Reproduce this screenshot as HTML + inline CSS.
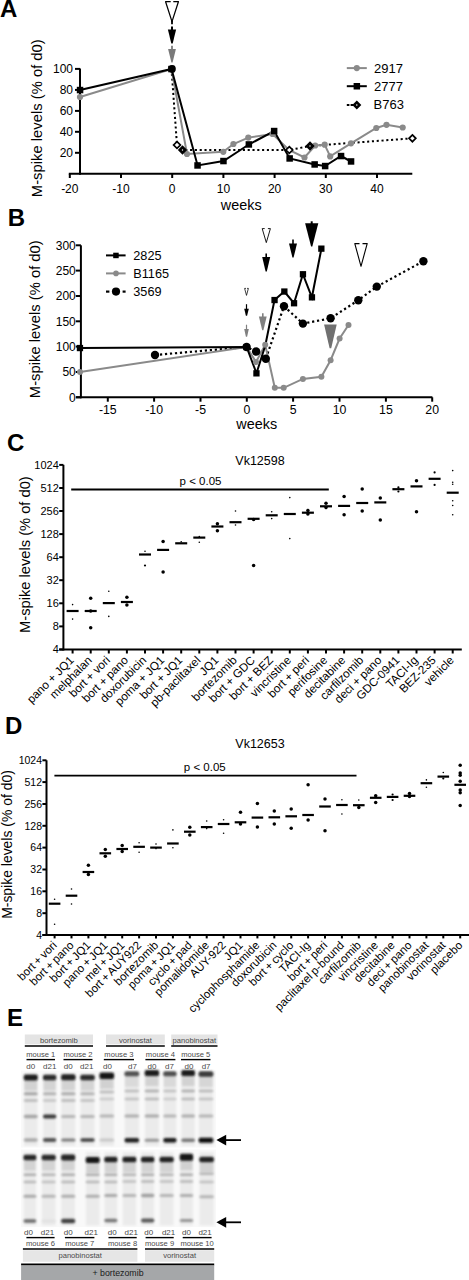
<!DOCTYPE html>
<html><head><meta charset="utf-8"><style>
html,body{margin:0;padding:0;background:#fff;width:469px;height:1280px;overflow:hidden}
svg{display:block}
text{font-family:"Liberation Sans", sans-serif}
</style></head><body>
<svg width="469" height="1280" viewBox="0 0 469 1280" font-family='"Liberation Sans", sans-serif'>
<rect width="469" height="1280" fill="#fff"/>
<text x="0.0" y="17.3" font-size="24" text-anchor="start" fill="#000" font-weight="bold" >A</text>
<line x1="68.8" y1="173.8" x2="412.3" y2="173.8" stroke="#000" stroke-width="2" />
<line x1="80.0" y1="68.5" x2="80.0" y2="174.8" stroke="#000" stroke-width="2" />
<line x1="69.8" y1="173.8" x2="69.8" y2="178.0" stroke="#000" stroke-width="2" />
<text x="69.8" y="192.5" font-size="12" text-anchor="middle" fill="#000" font-weight="normal" >-20</text>
<line x1="121.0" y1="173.8" x2="121.0" y2="178.0" stroke="#000" stroke-width="2" />
<text x="121.0" y="192.5" font-size="12" text-anchor="middle" fill="#000" font-weight="normal" >-10</text>
<line x1="172.2" y1="173.8" x2="172.2" y2="178.0" stroke="#000" stroke-width="2" />
<text x="172.2" y="192.5" font-size="12" text-anchor="middle" fill="#000" font-weight="normal" >0</text>
<line x1="223.4" y1="173.8" x2="223.4" y2="178.0" stroke="#000" stroke-width="2" />
<text x="223.4" y="192.5" font-size="12" text-anchor="middle" fill="#000" font-weight="normal" >10</text>
<line x1="274.6" y1="173.8" x2="274.6" y2="178.0" stroke="#000" stroke-width="2" />
<text x="274.6" y="192.5" font-size="12" text-anchor="middle" fill="#000" font-weight="normal" >20</text>
<line x1="325.8" y1="173.8" x2="325.8" y2="178.0" stroke="#000" stroke-width="2" />
<text x="325.8" y="192.5" font-size="12" text-anchor="middle" fill="#000" font-weight="normal" >30</text>
<line x1="377.0" y1="173.8" x2="377.0" y2="178.0" stroke="#000" stroke-width="2" />
<text x="377.0" y="192.5" font-size="12" text-anchor="middle" fill="#000" font-weight="normal" >40</text>
<line x1="75.0" y1="152.8" x2="80.0" y2="152.8" stroke="#000" stroke-width="2" />
<text x="73.0" y="157.0" font-size="12" text-anchor="end" fill="#000" font-weight="normal" >20</text>
<line x1="75.0" y1="131.8" x2="80.0" y2="131.8" stroke="#000" stroke-width="2" />
<text x="73.0" y="136.0" font-size="12" text-anchor="end" fill="#000" font-weight="normal" >40</text>
<line x1="75.0" y1="110.9" x2="80.0" y2="110.9" stroke="#000" stroke-width="2" />
<text x="73.0" y="115.1" font-size="12" text-anchor="end" fill="#000" font-weight="normal" >60</text>
<line x1="75.0" y1="89.9" x2="80.0" y2="89.9" stroke="#000" stroke-width="2" />
<text x="73.0" y="94.1" font-size="12" text-anchor="end" fill="#000" font-weight="normal" >80</text>
<line x1="75.0" y1="68.9" x2="80.0" y2="68.9" stroke="#000" stroke-width="2" />
<text x="73.0" y="73.1" font-size="12" text-anchor="end" fill="#000" font-weight="normal" >100</text>
<text x="241.2" y="210.2" font-size="14.4" text-anchor="middle" fill="#000" font-weight="normal" >weeks</text>
<text transform="translate(42.4,118.2) rotate(-90)" font-size="14.8" text-anchor="middle">M-spike levels (% of d0)</text>
<polyline points="171.5,69.0 177.0,145.0 182.5,150.0 289.3,150.0 310.0,146.0 412.4,138.3" fill="none" stroke="#000" stroke-width="2" stroke-dasharray="2.1 2.7" stroke-linejoin="miter" />
<polyline points="80.0,97.0 171.5,69.0 187.0,154.0 223.3,151.8 233.4,144.0 248.3,137.6 272.6,134.0 289.0,150.0 304.5,157.5 315.2,145.5 324.7,144.7 330.2,156.4 351.0,143.3 376.3,128.0 386.5,124.8 402.7,127.5" fill="none" stroke="#8a8a8a" stroke-width="2" stroke-linejoin="miter" />
<polyline points="80.0,90.0 171.5,69.0 197.6,165.4 223.5,161.0 248.8,144.5 274.1,131.1 289.7,158.5 314.6,164.5 325.1,166.0 341.0,156.0 351.0,161.5" fill="none" stroke="#000" stroke-width="2" stroke-linejoin="miter" />
<circle cx="80.0" cy="97.0" r="3.1" fill="#8a8a8a" stroke="none" stroke-width="0"/>
<circle cx="171.5" cy="69.0" r="3.1" fill="#8a8a8a" stroke="none" stroke-width="0"/>
<circle cx="187.0" cy="154.0" r="3.1" fill="#8a8a8a" stroke="none" stroke-width="0"/>
<circle cx="223.3" cy="151.8" r="3.1" fill="#8a8a8a" stroke="none" stroke-width="0"/>
<circle cx="233.4" cy="144.0" r="3.1" fill="#8a8a8a" stroke="none" stroke-width="0"/>
<circle cx="248.3" cy="137.6" r="3.1" fill="#8a8a8a" stroke="none" stroke-width="0"/>
<circle cx="272.6" cy="134.0" r="3.1" fill="#8a8a8a" stroke="none" stroke-width="0"/>
<circle cx="304.5" cy="157.5" r="3.1" fill="#8a8a8a" stroke="none" stroke-width="0"/>
<circle cx="315.2" cy="145.5" r="3.1" fill="#8a8a8a" stroke="none" stroke-width="0"/>
<circle cx="324.7" cy="144.7" r="3.1" fill="#8a8a8a" stroke="none" stroke-width="0"/>
<circle cx="330.2" cy="156.4" r="3.1" fill="#8a8a8a" stroke="none" stroke-width="0"/>
<circle cx="351.0" cy="143.3" r="3.1" fill="#8a8a8a" stroke="none" stroke-width="0"/>
<circle cx="376.3" cy="128.0" r="3.1" fill="#8a8a8a" stroke="none" stroke-width="0"/>
<circle cx="386.5" cy="124.8" r="3.1" fill="#8a8a8a" stroke="none" stroke-width="0"/>
<circle cx="402.7" cy="127.5" r="3.1" fill="#8a8a8a" stroke="none" stroke-width="0"/>
<rect x="76.8" y="86.8" width="6.5" height="6.5" fill="#000"/>
<rect x="168.2" y="65.8" width="6.5" height="6.5" fill="#000"/>
<rect x="194.3" y="162.2" width="6.5" height="6.5" fill="#000"/>
<rect x="220.2" y="157.8" width="6.5" height="6.5" fill="#000"/>
<rect x="245.6" y="141.2" width="6.5" height="6.5" fill="#000"/>
<rect x="270.9" y="127.8" width="6.5" height="6.5" fill="#000"/>
<rect x="286.4" y="155.2" width="6.5" height="6.5" fill="#000"/>
<rect x="311.4" y="161.2" width="6.5" height="6.5" fill="#000"/>
<rect x="321.9" y="162.8" width="6.5" height="6.5" fill="#000"/>
<rect x="337.8" y="152.8" width="6.5" height="6.5" fill="#000"/>
<rect x="347.8" y="158.2" width="6.5" height="6.5" fill="#000"/>
<circle cx="172.0" cy="68.9" r="3.8" fill="#000" stroke="none" stroke-width="0"/>
<polygon points="177,141.6 180.4,145 177,148.4 173.6,145" fill="#fff" stroke="#000" stroke-width="1.7"/>
<polygon points="289.3,146.6 292.7,150 289.3,153.4 285.90000000000003,150" fill="#fff" stroke="#000" stroke-width="1.7"/>
<polygon points="412.4,134.9 415.79999999999995,138.3 412.4,141.70000000000002 409.0,138.3" fill="#fff" stroke="#000" stroke-width="1.7"/>
<polygon points="182.5,146.4 186.1,150 182.5,153.6 178.9,150" fill="#000" stroke="#000" stroke-width="1.5"/>
<circle cx="182.5" cy="150.0" r="0.7" fill="#fff" stroke="none" stroke-width="0"/>
<polygon points="310,142.4 313.6,146 310,149.6 306.4,146" fill="#000" stroke="#000" stroke-width="1.5"/>
<circle cx="310.0" cy="146.0" r="0.7" fill="#fff" stroke="none" stroke-width="0"/>
<path d="M170.7,1.7 L165.6,1.7 L172.0,21.6 L178.4,1.7 L173.3,1.7" fill="none" stroke="#000" stroke-width="1.25" stroke-linejoin="round"/>
<line x1="172.0" y1="21.0" x2="172.0" y2="24.2" stroke="#000" stroke-width="1.8" />
<line x1="172.0" y1="26.4" x2="172.0" y2="30.0" stroke="#000" stroke-width="2" />
<polygon points="167.9,29.5 176.1,29.5 172.7,43.6 171.3,43.6" fill="#000"/>
<line x1="172.0" y1="45.8" x2="172.0" y2="49.5" stroke="#7a7a7a" stroke-width="1.8" />
<polygon points="168.1,49 175.9,49 172.6,62.6 171.4,62.6" fill="#7a7a7a"/>
<line x1="346.8" y1="68.1" x2="366.8" y2="68.1" stroke="#8a8a8a" stroke-width="2" />
<circle cx="356.8" cy="68.1" r="3.1" fill="#8a8a8a" stroke="none" stroke-width="0"/>
<line x1="346.8" y1="86.2" x2="366.8" y2="86.2" stroke="#000" stroke-width="2" />
<rect x="353.6" y="83.0" width="6.5" height="6.5" fill="#000"/>
<line x1="346.8" y1="105.0" x2="349.4" y2="105.0" stroke="#000" stroke-width="2" />
<line x1="350.6" y1="105.0" x2="353.4" y2="105.0" stroke="#000" stroke-width="2" />
<polygon points="356.8,101.6 360.2,105 356.8,108.4 353.40000000000003,105" fill="#000" stroke="#000" stroke-width="1.6"/>
<circle cx="356.8" cy="105.0" r="0.8" fill="#fff" stroke="none" stroke-width="0"/>
<text x="374.0" y="72.6" font-size="13" text-anchor="start" fill="#000" font-weight="normal" >2917</text>
<text x="374.0" y="90.8" font-size="13" text-anchor="start" fill="#000" font-weight="normal" >2777</text>
<text x="373.5" y="109.3" font-size="13" text-anchor="start" fill="#000" font-weight="normal" >B763</text>
<text x="7.8" y="226.0" font-size="24" text-anchor="start" fill="#000" font-weight="bold" >B</text>
<line x1="76.0" y1="397.3" x2="432.4" y2="397.3" stroke="#000" stroke-width="2" />
<line x1="80.9" y1="245.3" x2="80.9" y2="398.3" stroke="#000" stroke-width="2" />
<line x1="107.8" y1="397.3" x2="107.8" y2="401.7" stroke="#000" stroke-width="2" />
<text x="107.8" y="414.1" font-size="12.3" text-anchor="middle" fill="#000" font-weight="normal" >-15</text>
<line x1="154.1" y1="397.3" x2="154.1" y2="401.7" stroke="#000" stroke-width="2" />
<text x="154.1" y="414.1" font-size="12.3" text-anchor="middle" fill="#000" font-weight="normal" >-10</text>
<line x1="200.5" y1="397.3" x2="200.5" y2="401.7" stroke="#000" stroke-width="2" />
<text x="200.5" y="414.1" font-size="12.3" text-anchor="middle" fill="#000" font-weight="normal" >-5</text>
<line x1="246.8" y1="397.3" x2="246.8" y2="401.7" stroke="#000" stroke-width="2" />
<text x="246.8" y="414.1" font-size="12.3" text-anchor="middle" fill="#000" font-weight="normal" >0</text>
<line x1="293.1" y1="397.3" x2="293.1" y2="401.7" stroke="#000" stroke-width="2" />
<text x="293.1" y="414.1" font-size="12.3" text-anchor="middle" fill="#000" font-weight="normal" >5</text>
<line x1="339.5" y1="397.3" x2="339.5" y2="401.7" stroke="#000" stroke-width="2" />
<text x="339.5" y="414.1" font-size="12.3" text-anchor="middle" fill="#000" font-weight="normal" >10</text>
<line x1="385.9" y1="397.3" x2="385.9" y2="401.7" stroke="#000" stroke-width="2" />
<text x="385.9" y="414.1" font-size="12.3" text-anchor="middle" fill="#000" font-weight="normal" >15</text>
<line x1="432.2" y1="397.3" x2="432.2" y2="401.7" stroke="#000" stroke-width="2" />
<text x="432.2" y="414.1" font-size="12.3" text-anchor="middle" fill="#000" font-weight="normal" >20</text>
<line x1="75.8" y1="397.3" x2="80.9" y2="397.3" stroke="#000" stroke-width="2" />
<text x="75.8" y="401.6" font-size="12" text-anchor="end" fill="#000" font-weight="normal" >0</text>
<line x1="75.8" y1="372.0" x2="80.9" y2="372.0" stroke="#000" stroke-width="2" />
<text x="75.8" y="376.3" font-size="12" text-anchor="end" fill="#000" font-weight="normal" >50</text>
<line x1="75.8" y1="346.6" x2="80.9" y2="346.6" stroke="#000" stroke-width="2" />
<text x="75.8" y="350.9" font-size="12" text-anchor="end" fill="#000" font-weight="normal" >100</text>
<line x1="75.8" y1="321.3" x2="80.9" y2="321.3" stroke="#000" stroke-width="2" />
<text x="75.8" y="325.6" font-size="12" text-anchor="end" fill="#000" font-weight="normal" >150</text>
<line x1="75.8" y1="296.0" x2="80.9" y2="296.0" stroke="#000" stroke-width="2" />
<text x="75.8" y="300.3" font-size="12" text-anchor="end" fill="#000" font-weight="normal" >200</text>
<line x1="75.8" y1="270.6" x2="80.9" y2="270.6" stroke="#000" stroke-width="2" />
<text x="75.8" y="274.9" font-size="12" text-anchor="end" fill="#000" font-weight="normal" >250</text>
<line x1="75.8" y1="245.3" x2="80.9" y2="245.3" stroke="#000" stroke-width="2" />
<text x="75.8" y="249.6" font-size="12" text-anchor="end" fill="#000" font-weight="normal" >300</text>
<text x="256.7" y="428.5" font-size="14.4" text-anchor="middle" fill="#000" font-weight="normal" >weeks</text>
<text transform="translate(40.2,319.2) rotate(-90)" font-size="14.8" text-anchor="middle">M-spike levels (% of d0)</text>
<polyline points="155.0,355.0 246.6,347.0 256.1,351.5 265.8,358.7 284.0,306.3 302.9,323.6 330.6,318.3 358.3,300.2 376.8,286.6 423.4,261.2" fill="none" stroke="#000" stroke-width="2.2" stroke-dasharray="2.2 2.8" stroke-linejoin="miter" />
<polyline points="80.0,372.0 246.6,347.0 256.0,362.0 265.2,344.8 274.8,387.8 283.7,387.8 302.9,378.9 321.4,376.8 330.6,360.2 339.6,338.5 348.5,325.0" fill="none" stroke="#8a8a8a" stroke-width="2" stroke-linejoin="miter" />
<polyline points="80.0,348.0 246.6,347.0 256.5,373.3 265.3,345.5 274.5,300.0 284.3,291.5 294.0,303.2 302.9,274.2 311.9,297.3 321.4,248.7" fill="none" stroke="#000" stroke-width="2" stroke-linejoin="miter" />
<circle cx="80.0" cy="372.0" r="3.0" fill="#8a8a8a" stroke="none" stroke-width="0"/>
<circle cx="246.6" cy="347.0" r="3.0" fill="#8a8a8a" stroke="none" stroke-width="0"/>
<circle cx="256.0" cy="362.0" r="3.0" fill="#8a8a8a" stroke="none" stroke-width="0"/>
<circle cx="265.2" cy="344.8" r="3.0" fill="#8a8a8a" stroke="none" stroke-width="0"/>
<circle cx="274.8" cy="387.8" r="3.0" fill="#8a8a8a" stroke="none" stroke-width="0"/>
<circle cx="283.7" cy="387.8" r="3.0" fill="#8a8a8a" stroke="none" stroke-width="0"/>
<circle cx="302.9" cy="378.9" r="3.0" fill="#8a8a8a" stroke="none" stroke-width="0"/>
<circle cx="321.4" cy="376.8" r="3.0" fill="#8a8a8a" stroke="none" stroke-width="0"/>
<circle cx="330.6" cy="360.2" r="3.0" fill="#8a8a8a" stroke="none" stroke-width="0"/>
<circle cx="339.6" cy="338.5" r="3.0" fill="#8a8a8a" stroke="none" stroke-width="0"/>
<circle cx="348.5" cy="325.0" r="3.0" fill="#8a8a8a" stroke="none" stroke-width="0"/>
<rect x="76.8" y="344.9" width="6.3" height="6.3" fill="#000"/>
<rect x="243.4" y="343.9" width="6.3" height="6.3" fill="#000"/>
<rect x="253.3" y="370.2" width="6.3" height="6.3" fill="#000"/>
<rect x="271.4" y="296.9" width="6.3" height="6.3" fill="#000"/>
<rect x="281.2" y="288.4" width="6.3" height="6.3" fill="#000"/>
<rect x="290.9" y="300.1" width="6.3" height="6.3" fill="#000"/>
<rect x="299.8" y="271.1" width="6.3" height="6.3" fill="#000"/>
<rect x="308.8" y="294.2" width="6.3" height="6.3" fill="#000"/>
<rect x="318.2" y="245.5" width="6.3" height="6.3" fill="#000"/>
<circle cx="155.0" cy="355.0" r="4.2" fill="#000" stroke="none" stroke-width="0"/>
<circle cx="246.6" cy="347.0" r="4.2" fill="#000" stroke="none" stroke-width="0"/>
<circle cx="256.1" cy="351.5" r="4.2" fill="#000" stroke="none" stroke-width="0"/>
<circle cx="265.8" cy="358.7" r="4.2" fill="#000" stroke="none" stroke-width="0"/>
<circle cx="284.0" cy="306.3" r="4.2" fill="#000" stroke="none" stroke-width="0"/>
<circle cx="302.9" cy="323.6" r="4.2" fill="#000" stroke="none" stroke-width="0"/>
<circle cx="330.6" cy="318.3" r="4.2" fill="#000" stroke="none" stroke-width="0"/>
<circle cx="358.3" cy="300.2" r="4.2" fill="#000" stroke="none" stroke-width="0"/>
<circle cx="376.8" cy="286.6" r="4.2" fill="#000" stroke="none" stroke-width="0"/>
<circle cx="423.4" cy="261.2" r="4.2" fill="#000" stroke="none" stroke-width="0"/>
<path d="M246.0,288.4 L244.6,288.4 L246.5,295.4 L248.4,288.4 L247.0,288.4" fill="none" stroke="#000" stroke-width="0.75" stroke-linejoin="round"/>
<line x1="246.5" y1="304.2" x2="246.5" y2="309.7" stroke="#000" stroke-width="1.2" />
<polygon points="244.2,308.7 248.8,308.7 247.1,315.7 245.9,315.7" fill="#000"/>
<line x1="246.5" y1="324.7" x2="246.5" y2="330.0" stroke="#808080" stroke-width="1.2" />
<polygon points="244.2,329.0 248.8,329.0 247.1,336.8 245.9,336.8" fill="#808080"/>
<path d="M264.7,228.6 L262.2,228.6 L266.3,242.6 L270.4,228.6 L267.9,228.6" fill="none" stroke="#000" stroke-width="0.9" stroke-linejoin="round"/>
<line x1="266.2" y1="253.5" x2="266.2" y2="258.1" stroke="#000" stroke-width="1.6" />
<polygon points="262.2,257.1 270.2,257.1 266.8,271.4 265.6,271.4" fill="#000"/>
<line x1="262.8" y1="313.2" x2="262.8" y2="317.5" stroke="#808080" stroke-width="1.6" />
<polygon points="258.9,316.5 266.7,316.5 263.4,330.2 262.2,330.2" fill="#808080"/>
<line x1="293.0" y1="239.6" x2="293.0" y2="244.4" stroke="#000" stroke-width="1.6" />
<polygon points="289.0,243.4 297.0,243.4 293.6,257.5 292.4,257.5" fill="#000"/>
<line x1="311.7" y1="221.3" x2="311.7" y2="224.2" stroke="#000" stroke-width="2" />
<polygon points="305.1,223.2 318.3,223.2 312.3,246.6 311.1,246.6" fill="#000"/>
<polygon points="324.1,324.6 336.7,324.6 331.2,348.2 329.6,348.2" fill="#707070"/>
<path d="M359.5,243.6 L354.8,243.6 L361.0,266.3 L367.2,243.6 L362.5,243.6" fill="none" stroke="#000" stroke-width="1.1" stroke-linejoin="round"/>
<line x1="106.0" y1="255.4" x2="125.6" y2="255.4" stroke="#000" stroke-width="2" />
<rect x="113.2" y="252.7" width="5.5" height="5.5" fill="#000"/>
<line x1="106.0" y1="273.4" x2="125.6" y2="273.4" stroke="#8a8a8a" stroke-width="2" />
<circle cx="116.0" cy="273.4" r="2.8" fill="#8a8a8a" stroke="none" stroke-width="0"/>
<line x1="106.0" y1="291.6" x2="109.4" y2="291.6" stroke="#000" stroke-width="2.2" />
<line x1="122.6" y1="291.6" x2="125.6" y2="291.6" stroke="#000" stroke-width="2.2" />
<circle cx="116.0" cy="291.6" r="4.1" fill="#000" stroke="none" stroke-width="0"/>
<text x="133.3" y="259.8" font-size="12.7" text-anchor="start" fill="#000" font-weight="normal" >2825</text>
<text x="133.3" y="278.0" font-size="12.7" text-anchor="start" fill="#000" font-weight="normal" >B1165</text>
<text x="133.3" y="296.0" font-size="12.7" text-anchor="start" fill="#000" font-weight="normal" >3569</text>
<text x="7.1" y="450.8" font-size="24" text-anchor="start" fill="#000" font-weight="bold" >C</text>
<line x1="63.4" y1="464.8" x2="63.4" y2="650.5" stroke="#000" stroke-width="2" />
<line x1="59.2" y1="649.5" x2="461.8" y2="649.5" stroke="#000" stroke-width="2" />
<line x1="59.2" y1="649.5" x2="63.4" y2="649.5" stroke="#000" stroke-width="2" />
<text x="58.8" y="653.4" font-size="11" text-anchor="end" fill="#000" font-weight="normal" >4</text>
<line x1="59.2" y1="626.4" x2="63.4" y2="626.4" stroke="#000" stroke-width="2" />
<text x="58.8" y="630.3" font-size="11" text-anchor="end" fill="#000" font-weight="normal" >8</text>
<line x1="59.2" y1="603.3" x2="63.4" y2="603.3" stroke="#000" stroke-width="2" />
<text x="58.8" y="607.2" font-size="11" text-anchor="end" fill="#000" font-weight="normal" >16</text>
<line x1="59.2" y1="580.2" x2="63.4" y2="580.2" stroke="#000" stroke-width="2" />
<text x="58.8" y="584.1" font-size="11" text-anchor="end" fill="#000" font-weight="normal" >32</text>
<line x1="59.2" y1="557.2" x2="63.4" y2="557.2" stroke="#000" stroke-width="2" />
<text x="58.8" y="561.1" font-size="11" text-anchor="end" fill="#000" font-weight="normal" >64</text>
<line x1="59.2" y1="534.1" x2="63.4" y2="534.1" stroke="#000" stroke-width="2" />
<text x="58.8" y="538.0" font-size="11" text-anchor="end" fill="#000" font-weight="normal" >128</text>
<line x1="59.2" y1="511.0" x2="63.4" y2="511.0" stroke="#000" stroke-width="2" />
<text x="58.8" y="514.9" font-size="11" text-anchor="end" fill="#000" font-weight="normal" >256</text>
<line x1="59.2" y1="488.0" x2="63.4" y2="488.0" stroke="#000" stroke-width="2" />
<text x="58.8" y="491.9" font-size="11" text-anchor="end" fill="#000" font-weight="normal" >512</text>
<line x1="59.2" y1="464.9" x2="63.4" y2="464.9" stroke="#000" stroke-width="2" />
<text x="58.8" y="468.8" font-size="11" text-anchor="end" fill="#000" font-weight="normal" >1024</text>
<line x1="72.6" y1="649.5" x2="72.6" y2="653.5" stroke="#000" stroke-width="2" />
<line x1="90.7" y1="649.5" x2="90.7" y2="653.5" stroke="#000" stroke-width="2" />
<line x1="108.8" y1="649.5" x2="108.8" y2="653.5" stroke="#000" stroke-width="2" />
<line x1="126.9" y1="649.5" x2="126.9" y2="653.5" stroke="#000" stroke-width="2" />
<line x1="145.0" y1="649.5" x2="145.0" y2="653.5" stroke="#000" stroke-width="2" />
<line x1="163.1" y1="649.5" x2="163.1" y2="653.5" stroke="#000" stroke-width="2" />
<line x1="181.2" y1="649.5" x2="181.2" y2="653.5" stroke="#000" stroke-width="2" />
<line x1="199.3" y1="649.5" x2="199.3" y2="653.5" stroke="#000" stroke-width="2" />
<line x1="217.4" y1="649.5" x2="217.4" y2="653.5" stroke="#000" stroke-width="2" />
<line x1="235.5" y1="649.5" x2="235.5" y2="653.5" stroke="#000" stroke-width="2" />
<line x1="253.6" y1="649.5" x2="253.6" y2="653.5" stroke="#000" stroke-width="2" />
<line x1="271.7" y1="649.5" x2="271.7" y2="653.5" stroke="#000" stroke-width="2" />
<line x1="289.8" y1="649.5" x2="289.8" y2="653.5" stroke="#000" stroke-width="2" />
<line x1="307.9" y1="649.5" x2="307.9" y2="653.5" stroke="#000" stroke-width="2" />
<line x1="326.0" y1="649.5" x2="326.0" y2="653.5" stroke="#000" stroke-width="2" />
<line x1="344.1" y1="649.5" x2="344.1" y2="653.5" stroke="#000" stroke-width="2" />
<line x1="362.2" y1="649.5" x2="362.2" y2="653.5" stroke="#000" stroke-width="2" />
<line x1="380.3" y1="649.5" x2="380.3" y2="653.5" stroke="#000" stroke-width="2" />
<line x1="398.4" y1="649.5" x2="398.4" y2="653.5" stroke="#000" stroke-width="2" />
<line x1="416.5" y1="649.5" x2="416.5" y2="653.5" stroke="#000" stroke-width="2" />
<line x1="434.6" y1="649.5" x2="434.6" y2="653.5" stroke="#000" stroke-width="2" />
<line x1="452.7" y1="649.5" x2="452.7" y2="653.5" stroke="#000" stroke-width="2" />
<text x="260.0" y="464.5" font-size="12.5" text-anchor="middle" fill="#000" font-weight="normal" >Vk12598</text>
<text x="200.5" y="485.0" font-size="11.5" text-anchor="middle" fill="#000" font-weight="normal" >p &lt; 0.05</text>
<line x1="71.2" y1="489.5" x2="328.8" y2="489.5" stroke="#000" stroke-width="1.8" />
<text transform="translate(29.6,554.6) rotate(-90)" font-size="14.7" text-anchor="middle">M-spike levels (% of d0)</text>
<text transform="translate(74.6,661) rotate(-45)" font-size="11.7" text-anchor="end">pano + JQ1</text>
<text transform="translate(92.7,661) rotate(-45)" font-size="11.7" text-anchor="end">melphalan</text>
<text transform="translate(110.8,661) rotate(-45)" font-size="11.7" text-anchor="end">bort + vori</text>
<text transform="translate(128.9,661) rotate(-45)" font-size="11.7" text-anchor="end">bort + pano</text>
<text transform="translate(147.0,661) rotate(-45)" font-size="11.7" text-anchor="end">doxorubicin</text>
<text transform="translate(165.1,661) rotate(-45)" font-size="11.7" text-anchor="end">poma + JQ1</text>
<text transform="translate(183.2,661) rotate(-45)" font-size="11.7" text-anchor="end">bort + JQ1</text>
<text transform="translate(201.3,661) rotate(-45)" font-size="11.7" text-anchor="end">pb-paclitaxel</text>
<text transform="translate(219.4,661) rotate(-45)" font-size="11.7" text-anchor="end">JQ1</text>
<text transform="translate(237.5,661) rotate(-45)" font-size="11.7" text-anchor="end">bortezomib</text>
<text transform="translate(255.6,661) rotate(-45)" font-size="11.7" text-anchor="end">bort + GDC</text>
<text transform="translate(273.7,661) rotate(-45)" font-size="11.7" text-anchor="end">bort + BEZ</text>
<text transform="translate(291.8,661) rotate(-45)" font-size="11.7" text-anchor="end">vincristine</text>
<text transform="translate(309.9,661) rotate(-45)" font-size="11.7" text-anchor="end">bort + peri</text>
<text transform="translate(328.0,661) rotate(-45)" font-size="11.7" text-anchor="end">perifosine</text>
<text transform="translate(346.1,661) rotate(-45)" font-size="11.7" text-anchor="end">decitabine</text>
<text transform="translate(364.2,661) rotate(-45)" font-size="11.7" text-anchor="end">carfilzomib</text>
<text transform="translate(382.3,661) rotate(-45)" font-size="11.7" text-anchor="end">deci + pano</text>
<text transform="translate(400.4,661) rotate(-45)" font-size="11.7" text-anchor="end">GDC-0941</text>
<text transform="translate(418.5,661) rotate(-45)" font-size="11.7" text-anchor="end">TACI-Ig</text>
<text transform="translate(436.6,661) rotate(-45)" font-size="11.7" text-anchor="end">BEZ-235</text>
<text transform="translate(454.7,661) rotate(-45)" font-size="11.7" text-anchor="end">vehicle</text>
<line x1="66.6" y1="611.0" x2="78.6" y2="611.0" stroke="#000" stroke-width="2.2" />
<circle cx="72.6" cy="604.6" r="0.8" fill="#000" stroke="none" stroke-width="0"/>
<circle cx="72.6" cy="619.1" r="0.8" fill="#000" stroke="none" stroke-width="0"/>
<line x1="84.7" y1="611.0" x2="96.7" y2="611.0" stroke="#000" stroke-width="2.2" />
<circle cx="90.7" cy="598.2" r="1.75" fill="#000" stroke="none" stroke-width="0"/>
<circle cx="90.7" cy="627.7" r="1.75" fill="#000" stroke="none" stroke-width="0"/>
<circle cx="90.7" cy="611.0" r="1.75" fill="#000" stroke="none" stroke-width="0"/>
<line x1="102.8" y1="603.1" x2="114.8" y2="603.1" stroke="#000" stroke-width="2.2" />
<circle cx="108.8" cy="591.2" r="0.8" fill="#000" stroke="none" stroke-width="0"/>
<circle cx="108.8" cy="616.4" r="0.8" fill="#000" stroke="none" stroke-width="0"/>
<line x1="120.9" y1="602.0" x2="132.9" y2="602.0" stroke="#000" stroke-width="2.2" />
<circle cx="126.9" cy="597.2" r="1.75" fill="#000" stroke="none" stroke-width="0"/>
<circle cx="126.9" cy="605.0" r="1.75" fill="#000" stroke="none" stroke-width="0"/>
<line x1="139.0" y1="554.5" x2="151.0" y2="554.5" stroke="#000" stroke-width="2.2" />
<circle cx="145.0" cy="551.3" r="0.8" fill="#000" stroke="none" stroke-width="0"/>
<circle cx="145.0" cy="565.5" r="1.1" fill="#000" stroke="none" stroke-width="0"/>
<line x1="157.1" y1="549.9" x2="169.1" y2="549.9" stroke="#000" stroke-width="2.2" />
<circle cx="163.1" cy="541.4" r="1.75" fill="#000" stroke="none" stroke-width="0"/>
<circle cx="163.1" cy="572.1" r="1.75" fill="#000" stroke="none" stroke-width="0"/>
<line x1="175.2" y1="543.3" x2="187.2" y2="543.3" stroke="#000" stroke-width="2.2" />
<circle cx="181.2" cy="541.8" r="0.8" fill="#000" stroke="none" stroke-width="0"/>
<line x1="193.3" y1="537.6" x2="205.3" y2="537.6" stroke="#000" stroke-width="2.2" />
<circle cx="199.3" cy="536.5" r="0.8" fill="#000" stroke="none" stroke-width="0"/>
<circle cx="199.3" cy="542.3" r="0.8" fill="#000" stroke="none" stroke-width="0"/>
<line x1="211.4" y1="526.5" x2="223.4" y2="526.5" stroke="#000" stroke-width="2.2" />
<circle cx="217.4" cy="523.7" r="1.75" fill="#000" stroke="none" stroke-width="0"/>
<circle cx="217.4" cy="530.7" r="1.75" fill="#000" stroke="none" stroke-width="0"/>
<line x1="229.5" y1="522.2" x2="241.5" y2="522.2" stroke="#000" stroke-width="2.2" />
<circle cx="235.5" cy="511.0" r="0.8" fill="#000" stroke="none" stroke-width="0"/>
<circle cx="235.5" cy="525.0" r="0.8" fill="#000" stroke="none" stroke-width="0"/>
<line x1="247.6" y1="518.8" x2="259.6" y2="518.8" stroke="#000" stroke-width="2.2" />
<circle cx="253.6" cy="565.4" r="1.75" fill="#000" stroke="none" stroke-width="0"/>
<circle cx="253.6" cy="519.4" r="1.75" fill="#000" stroke="none" stroke-width="0"/>
<line x1="265.7" y1="515.3" x2="277.7" y2="515.3" stroke="#000" stroke-width="2.2" />
<circle cx="271.7" cy="511.7" r="0.8" fill="#000" stroke="none" stroke-width="0"/>
<circle cx="271.7" cy="518.6" r="0.8" fill="#000" stroke="none" stroke-width="0"/>
<line x1="283.8" y1="514.0" x2="295.8" y2="514.0" stroke="#000" stroke-width="2.2" />
<circle cx="289.8" cy="497.6" r="0.8" fill="#000" stroke="none" stroke-width="0"/>
<circle cx="289.8" cy="538.6" r="0.8" fill="#000" stroke="none" stroke-width="0"/>
<line x1="301.9" y1="512.7" x2="313.9" y2="512.7" stroke="#000" stroke-width="2.2" />
<circle cx="307.9" cy="510.4" r="1.75" fill="#000" stroke="none" stroke-width="0"/>
<circle cx="307.9" cy="514.0" r="1.75" fill="#000" stroke="none" stroke-width="0"/>
<line x1="320.0" y1="506.3" x2="332.0" y2="506.3" stroke="#000" stroke-width="2.2" />
<circle cx="326.0" cy="503.3" r="1.75" fill="#000" stroke="none" stroke-width="0"/>
<circle cx="326.0" cy="507.6" r="1.75" fill="#000" stroke="none" stroke-width="0"/>
<line x1="338.1" y1="505.9" x2="350.1" y2="505.9" stroke="#000" stroke-width="2.2" />
<circle cx="344.1" cy="496.5" r="1.75" fill="#000" stroke="none" stroke-width="0"/>
<circle cx="344.1" cy="514.8" r="1.75" fill="#000" stroke="none" stroke-width="0"/>
<line x1="356.2" y1="503.0" x2="368.2" y2="503.0" stroke="#000" stroke-width="2.2" />
<circle cx="362.2" cy="489.0" r="1.75" fill="#000" stroke="none" stroke-width="0"/>
<circle cx="362.2" cy="511.0" r="1.75" fill="#000" stroke="none" stroke-width="0"/>
<line x1="374.3" y1="502.4" x2="386.3" y2="502.4" stroke="#000" stroke-width="2.2" />
<circle cx="380.3" cy="498.0" r="1.75" fill="#000" stroke="none" stroke-width="0"/>
<circle cx="380.3" cy="519.9" r="1.75" fill="#000" stroke="none" stroke-width="0"/>
<line x1="392.4" y1="489.2" x2="404.4" y2="489.2" stroke="#000" stroke-width="2.2" />
<circle cx="398.4" cy="487.4" r="1.1" fill="#000" stroke="none" stroke-width="0"/>
<circle cx="398.4" cy="491.5" r="1.1" fill="#000" stroke="none" stroke-width="0"/>
<line x1="410.5" y1="486.4" x2="422.5" y2="486.4" stroke="#000" stroke-width="2.2" />
<circle cx="416.5" cy="480.8" r="1.75" fill="#000" stroke="none" stroke-width="0"/>
<circle cx="416.5" cy="511.7" r="1.75" fill="#000" stroke="none" stroke-width="0"/>
<line x1="428.6" y1="478.8" x2="440.6" y2="478.8" stroke="#000" stroke-width="2.2" />
<circle cx="434.6" cy="472.4" r="1.1" fill="#000" stroke="none" stroke-width="0"/>
<circle cx="434.6" cy="484.9" r="1.1" fill="#000" stroke="none" stroke-width="0"/>
<line x1="446.7" y1="492.7" x2="458.7" y2="492.7" stroke="#000" stroke-width="2.2" />
<circle cx="452.7" cy="470.6" r="0.8" fill="#000" stroke="none" stroke-width="0"/>
<circle cx="452.7" cy="482.3" r="0.8" fill="#000" stroke="none" stroke-width="0"/>
<circle cx="452.7" cy="484.3" r="0.8" fill="#000" stroke="none" stroke-width="0"/>
<circle cx="452.7" cy="500.8" r="0.8" fill="#000" stroke="none" stroke-width="0"/>
<circle cx="452.7" cy="505.5" r="0.8" fill="#000" stroke="none" stroke-width="0"/>
<circle cx="452.7" cy="514.7" r="0.8" fill="#000" stroke="none" stroke-width="0"/>
<text x="4.9" y="733.7" font-size="24" text-anchor="start" fill="#000" font-weight="bold" >D</text>
<line x1="46.5" y1="760.3" x2="46.5" y2="936.0" stroke="#000" stroke-width="2" />
<line x1="42.4" y1="935.0" x2="469.0" y2="935.0" stroke="#000" stroke-width="2" />
<line x1="42.4" y1="935.0" x2="46.5" y2="935.0" stroke="#000" stroke-width="2" />
<text x="42.0" y="938.7" font-size="10.5" text-anchor="end" fill="#000" font-weight="normal" >4</text>
<line x1="42.4" y1="913.2" x2="46.5" y2="913.2" stroke="#000" stroke-width="2" />
<text x="42.0" y="916.9" font-size="10.5" text-anchor="end" fill="#000" font-weight="normal" >8</text>
<line x1="42.4" y1="891.3" x2="46.5" y2="891.3" stroke="#000" stroke-width="2" />
<text x="42.0" y="895.0" font-size="10.5" text-anchor="end" fill="#000" font-weight="normal" >16</text>
<line x1="42.4" y1="869.5" x2="46.5" y2="869.5" stroke="#000" stroke-width="2" />
<text x="42.0" y="873.2" font-size="10.5" text-anchor="end" fill="#000" font-weight="normal" >32</text>
<line x1="42.4" y1="847.6" x2="46.5" y2="847.6" stroke="#000" stroke-width="2" />
<text x="42.0" y="851.3" font-size="10.5" text-anchor="end" fill="#000" font-weight="normal" >64</text>
<line x1="42.4" y1="825.8" x2="46.5" y2="825.8" stroke="#000" stroke-width="2" />
<text x="42.0" y="829.5" font-size="10.5" text-anchor="end" fill="#000" font-weight="normal" >128</text>
<line x1="42.4" y1="804.0" x2="46.5" y2="804.0" stroke="#000" stroke-width="2" />
<text x="42.0" y="807.7" font-size="10.5" text-anchor="end" fill="#000" font-weight="normal" >256</text>
<line x1="42.4" y1="782.1" x2="46.5" y2="782.1" stroke="#000" stroke-width="2" />
<text x="42.0" y="785.8" font-size="10.5" text-anchor="end" fill="#000" font-weight="normal" >512</text>
<line x1="42.4" y1="760.3" x2="46.5" y2="760.3" stroke="#000" stroke-width="2" />
<text x="42.0" y="764.0" font-size="10.5" text-anchor="end" fill="#000" font-weight="normal" >1024</text>
<line x1="54.6" y1="935.0" x2="54.6" y2="938.4" stroke="#000" stroke-width="2" />
<line x1="71.5" y1="935.0" x2="71.5" y2="938.4" stroke="#000" stroke-width="2" />
<line x1="88.4" y1="935.0" x2="88.4" y2="938.4" stroke="#000" stroke-width="2" />
<line x1="105.3" y1="935.0" x2="105.3" y2="938.4" stroke="#000" stroke-width="2" />
<line x1="122.2" y1="935.0" x2="122.2" y2="938.4" stroke="#000" stroke-width="2" />
<line x1="139.1" y1="935.0" x2="139.1" y2="938.4" stroke="#000" stroke-width="2" />
<line x1="156.0" y1="935.0" x2="156.0" y2="938.4" stroke="#000" stroke-width="2" />
<line x1="172.9" y1="935.0" x2="172.9" y2="938.4" stroke="#000" stroke-width="2" />
<line x1="189.8" y1="935.0" x2="189.8" y2="938.4" stroke="#000" stroke-width="2" />
<line x1="206.7" y1="935.0" x2="206.7" y2="938.4" stroke="#000" stroke-width="2" />
<line x1="223.6" y1="935.0" x2="223.6" y2="938.4" stroke="#000" stroke-width="2" />
<line x1="240.5" y1="935.0" x2="240.5" y2="938.4" stroke="#000" stroke-width="2" />
<line x1="257.4" y1="935.0" x2="257.4" y2="938.4" stroke="#000" stroke-width="2" />
<line x1="274.3" y1="935.0" x2="274.3" y2="938.4" stroke="#000" stroke-width="2" />
<line x1="291.2" y1="935.0" x2="291.2" y2="938.4" stroke="#000" stroke-width="2" />
<line x1="308.1" y1="935.0" x2="308.1" y2="938.4" stroke="#000" stroke-width="2" />
<line x1="325.0" y1="935.0" x2="325.0" y2="938.4" stroke="#000" stroke-width="2" />
<line x1="341.9" y1="935.0" x2="341.9" y2="938.4" stroke="#000" stroke-width="2" />
<line x1="358.8" y1="935.0" x2="358.8" y2="938.4" stroke="#000" stroke-width="2" />
<line x1="375.7" y1="935.0" x2="375.7" y2="938.4" stroke="#000" stroke-width="2" />
<line x1="392.6" y1="935.0" x2="392.6" y2="938.4" stroke="#000" stroke-width="2" />
<line x1="409.5" y1="935.0" x2="409.5" y2="938.4" stroke="#000" stroke-width="2" />
<line x1="426.4" y1="935.0" x2="426.4" y2="938.4" stroke="#000" stroke-width="2" />
<line x1="443.3" y1="935.0" x2="443.3" y2="938.4" stroke="#000" stroke-width="2" />
<line x1="460.2" y1="935.0" x2="460.2" y2="938.4" stroke="#000" stroke-width="2" />
<text x="260.0" y="747.8" font-size="12.5" text-anchor="middle" fill="#000" font-weight="normal" >Vk12653</text>
<text x="204.8" y="771.2" font-size="11.5" text-anchor="middle" fill="#000" font-weight="normal" >p &lt; 0.05</text>
<line x1="54.4" y1="775.7" x2="356.5" y2="775.7" stroke="#000" stroke-width="1.8" />
<text transform="translate(12,844.5) rotate(-90)" font-size="13.95" text-anchor="middle">M-spike levels (% of d0)</text>
<text transform="translate(57.6,946) rotate(-45)" font-size="11.5" word-spacing="-0.8" text-anchor="end">bort + vori</text>
<text transform="translate(74.5,946) rotate(-45)" font-size="11.5" word-spacing="-0.8" text-anchor="end">bort + pano</text>
<text transform="translate(91.4,946) rotate(-45)" font-size="11.5" word-spacing="-0.8" text-anchor="end">bort + JQ1</text>
<text transform="translate(108.3,946) rotate(-45)" font-size="11.5" word-spacing="-0.8" text-anchor="end">pano + JQ1</text>
<text transform="translate(125.2,946) rotate(-45)" font-size="11.5" word-spacing="-0.8" text-anchor="end">mel + JQ1</text>
<text transform="translate(142.1,946) rotate(-45)" font-size="11.5" word-spacing="-0.8" text-anchor="end">bort + AUY922</text>
<text transform="translate(159.0,946) rotate(-45)" font-size="11.5" word-spacing="-0.8" text-anchor="end">bortezomib</text>
<text transform="translate(175.9,946) rotate(-45)" font-size="11.5" word-spacing="-0.8" text-anchor="end">poma + JQ1</text>
<text transform="translate(192.8,946) rotate(-45)" font-size="11.5" word-spacing="-0.8" text-anchor="end">cyclo + pad</text>
<text transform="translate(209.7,946) rotate(-45)" font-size="11.5" word-spacing="-0.8" text-anchor="end">pomalidomide</text>
<text transform="translate(226.6,946) rotate(-45)" font-size="11.5" word-spacing="-0.8" text-anchor="end">AUY-922</text>
<text transform="translate(243.5,946) rotate(-45)" font-size="11.5" word-spacing="-0.8" text-anchor="end">JQ1</text>
<text transform="translate(260.4,946) rotate(-45)" font-size="11.5" word-spacing="-0.8" text-anchor="end">cyclophosphamide</text>
<text transform="translate(277.3,946) rotate(-45)" font-size="11.5" word-spacing="-0.8" text-anchor="end">doxorubicin</text>
<text transform="translate(294.2,946) rotate(-45)" font-size="11.5" word-spacing="-0.8" text-anchor="end">bort + cyclo</text>
<text transform="translate(311.1,946) rotate(-45)" font-size="11.5" word-spacing="-0.8" text-anchor="end">TACI-Ig</text>
<text transform="translate(328.0,946) rotate(-45)" font-size="11.5" word-spacing="-0.8" text-anchor="end">bort + peri</text>
<text transform="translate(344.9,946) rotate(-45)" font-size="11.5" word-spacing="-0.8" text-anchor="end">paclitaxel p-bound</text>
<text transform="translate(361.8,946) rotate(-45)" font-size="11.5" word-spacing="-0.8" text-anchor="end">carfilzomib</text>
<text transform="translate(378.7,946) rotate(-45)" font-size="11.5" word-spacing="-0.8" text-anchor="end">vincristine</text>
<text transform="translate(395.6,946) rotate(-45)" font-size="11.5" word-spacing="-0.8" text-anchor="end">decitabine</text>
<text transform="translate(412.5,946) rotate(-45)" font-size="11.5" word-spacing="-0.8" text-anchor="end">deci + pano</text>
<text transform="translate(429.4,946) rotate(-45)" font-size="11.5" word-spacing="-0.8" text-anchor="end">panobinostat</text>
<text transform="translate(446.3,946) rotate(-45)" font-size="11.5" word-spacing="-0.8" text-anchor="end">vorinostat</text>
<text transform="translate(463.2,946) rotate(-45)" font-size="11.5" word-spacing="-0.8" text-anchor="end">placebo</text>
<line x1="48.8" y1="903.7" x2="60.4" y2="903.7" stroke="#000" stroke-width="2.2" />
<circle cx="54.6" cy="899.3" r="0.8" fill="#000" stroke="none" stroke-width="0"/>
<circle cx="54.6" cy="924.2" r="0.8" fill="#000" stroke="none" stroke-width="0"/>
<line x1="65.7" y1="895.7" x2="77.3" y2="895.7" stroke="#000" stroke-width="2.2" />
<circle cx="71.5" cy="889.0" r="0.8" fill="#000" stroke="none" stroke-width="0"/>
<circle cx="71.5" cy="904.0" r="0.8" fill="#000" stroke="none" stroke-width="0"/>
<line x1="82.6" y1="872.0" x2="94.2" y2="872.0" stroke="#000" stroke-width="2.2" />
<circle cx="88.4" cy="865.3" r="1.75" fill="#000" stroke="none" stroke-width="0"/>
<circle cx="88.4" cy="874.5" r="1.75" fill="#000" stroke="none" stroke-width="0"/>
<line x1="99.5" y1="853.3" x2="111.1" y2="853.3" stroke="#000" stroke-width="2.2" />
<circle cx="105.3" cy="849.4" r="1.75" fill="#000" stroke="none" stroke-width="0"/>
<circle cx="105.3" cy="856.3" r="1.75" fill="#000" stroke="none" stroke-width="0"/>
<line x1="116.4" y1="849.0" x2="128.0" y2="849.0" stroke="#000" stroke-width="2.2" />
<circle cx="122.2" cy="845.6" r="1.75" fill="#000" stroke="none" stroke-width="0"/>
<circle cx="122.2" cy="851.5" r="1.75" fill="#000" stroke="none" stroke-width="0"/>
<line x1="133.3" y1="846.8" x2="144.9" y2="846.8" stroke="#000" stroke-width="2.2" />
<circle cx="139.1" cy="842.8" r="0.8" fill="#000" stroke="none" stroke-width="0"/>
<circle cx="139.1" cy="852.3" r="0.8" fill="#000" stroke="none" stroke-width="0"/>
<line x1="150.2" y1="847.6" x2="161.8" y2="847.6" stroke="#000" stroke-width="2.2" />
<circle cx="156.0" cy="844.0" r="0.8" fill="#000" stroke="none" stroke-width="0"/>
<circle cx="156.0" cy="848.6" r="0.8" fill="#000" stroke="none" stroke-width="0"/>
<line x1="167.1" y1="843.5" x2="178.7" y2="843.5" stroke="#000" stroke-width="2.2" />
<circle cx="172.9" cy="829.9" r="0.8" fill="#000" stroke="none" stroke-width="0"/>
<circle cx="172.9" cy="847.8" r="0.8" fill="#000" stroke="none" stroke-width="0"/>
<line x1="184.0" y1="831.7" x2="195.6" y2="831.7" stroke="#000" stroke-width="2.2" />
<circle cx="189.8" cy="827.3" r="1.75" fill="#000" stroke="none" stroke-width="0"/>
<circle cx="189.8" cy="835.0" r="1.75" fill="#000" stroke="none" stroke-width="0"/>
<line x1="200.9" y1="827.1" x2="212.5" y2="827.1" stroke="#000" stroke-width="2.2" />
<circle cx="206.7" cy="821.0" r="0.8" fill="#000" stroke="none" stroke-width="0"/>
<circle cx="206.7" cy="828.6" r="0.8" fill="#000" stroke="none" stroke-width="0"/>
<line x1="217.8" y1="824.0" x2="229.4" y2="824.0" stroke="#000" stroke-width="2.2" />
<circle cx="223.6" cy="819.7" r="0.8" fill="#000" stroke="none" stroke-width="0"/>
<circle cx="223.6" cy="833.2" r="0.8" fill="#000" stroke="none" stroke-width="0"/>
<line x1="234.7" y1="822.3" x2="246.3" y2="822.3" stroke="#000" stroke-width="2.2" />
<circle cx="240.5" cy="812.3" r="1.75" fill="#000" stroke="none" stroke-width="0"/>
<circle cx="240.5" cy="824.0" r="1.75" fill="#000" stroke="none" stroke-width="0"/>
<line x1="251.6" y1="817.6" x2="263.2" y2="817.6" stroke="#000" stroke-width="2.2" />
<circle cx="257.4" cy="803.5" r="1.75" fill="#000" stroke="none" stroke-width="0"/>
<circle cx="257.4" cy="826.9" r="1.75" fill="#000" stroke="none" stroke-width="0"/>
<line x1="268.5" y1="817.3" x2="280.1" y2="817.3" stroke="#000" stroke-width="2.2" />
<circle cx="274.3" cy="811.0" r="1.75" fill="#000" stroke="none" stroke-width="0"/>
<circle cx="274.3" cy="824.0" r="1.75" fill="#000" stroke="none" stroke-width="0"/>
<line x1="285.4" y1="816.3" x2="297.0" y2="816.3" stroke="#000" stroke-width="2.2" />
<circle cx="291.2" cy="809.0" r="1.75" fill="#000" stroke="none" stroke-width="0"/>
<circle cx="291.2" cy="828.3" r="1.75" fill="#000" stroke="none" stroke-width="0"/>
<line x1="302.3" y1="815.0" x2="313.9" y2="815.0" stroke="#000" stroke-width="2.2" />
<circle cx="308.1" cy="784.8" r="1.75" fill="#000" stroke="none" stroke-width="0"/>
<circle cx="308.1" cy="820.1" r="1.75" fill="#000" stroke="none" stroke-width="0"/>
<line x1="319.2" y1="806.5" x2="330.8" y2="806.5" stroke="#000" stroke-width="2.2" />
<circle cx="325.0" cy="798.9" r="1.75" fill="#000" stroke="none" stroke-width="0"/>
<circle cx="325.0" cy="830.8" r="1.75" fill="#000" stroke="none" stroke-width="0"/>
<line x1="336.1" y1="805.0" x2="347.7" y2="805.0" stroke="#000" stroke-width="2.2" />
<circle cx="341.9" cy="799.7" r="0.8" fill="#000" stroke="none" stroke-width="0"/>
<circle cx="341.9" cy="814.0" r="0.8" fill="#000" stroke="none" stroke-width="0"/>
<line x1="353.0" y1="805.2" x2="364.6" y2="805.2" stroke="#000" stroke-width="2.2" />
<circle cx="358.8" cy="800.0" r="0.8" fill="#000" stroke="none" stroke-width="0"/>
<circle cx="358.8" cy="807.6" r="1.75" fill="#000" stroke="none" stroke-width="0"/>
<line x1="369.9" y1="797.8" x2="381.5" y2="797.8" stroke="#000" stroke-width="2.2" />
<circle cx="375.7" cy="795.8" r="1.75" fill="#000" stroke="none" stroke-width="0"/>
<circle cx="375.7" cy="802.4" r="1.75" fill="#000" stroke="none" stroke-width="0"/>
<line x1="386.8" y1="796.9" x2="398.4" y2="796.9" stroke="#000" stroke-width="2.2" />
<circle cx="392.6" cy="794.5" r="1.1" fill="#000" stroke="none" stroke-width="0"/>
<circle cx="392.6" cy="800.0" r="1.1" fill="#000" stroke="none" stroke-width="0"/>
<line x1="403.7" y1="795.8" x2="415.3" y2="795.8" stroke="#000" stroke-width="2.2" />
<circle cx="409.5" cy="793.6" r="1.75" fill="#000" stroke="none" stroke-width="0"/>
<circle cx="409.5" cy="796.4" r="1.75" fill="#000" stroke="none" stroke-width="0"/>
<line x1="420.6" y1="783.2" x2="432.2" y2="783.2" stroke="#000" stroke-width="2.2" />
<circle cx="426.4" cy="779.9" r="0.8" fill="#000" stroke="none" stroke-width="0"/>
<circle cx="426.4" cy="787.3" r="0.8" fill="#000" stroke="none" stroke-width="0"/>
<line x1="437.5" y1="776.6" x2="449.1" y2="776.6" stroke="#000" stroke-width="2.2" />
<circle cx="443.3" cy="772.5" r="0.8" fill="#000" stroke="none" stroke-width="0"/>
<circle cx="443.3" cy="778.5" r="1.1" fill="#000" stroke="none" stroke-width="0"/>
<line x1="454.4" y1="784.8" x2="466.0" y2="784.8" stroke="#000" stroke-width="2.2" />
<circle cx="460.2" cy="765.3" r="1.75" fill="#000" stroke="none" stroke-width="0"/>
<circle cx="460.2" cy="773.0" r="1.75" fill="#000" stroke="none" stroke-width="0"/>
<circle cx="460.2" cy="775.2" r="1.75" fill="#000" stroke="none" stroke-width="0"/>
<circle cx="460.2" cy="781.3" r="1.75" fill="#000" stroke="none" stroke-width="0"/>
<circle cx="460.2" cy="790.0" r="1.75" fill="#000" stroke="none" stroke-width="0"/>
<circle cx="460.2" cy="792.8" r="1.75" fill="#000" stroke="none" stroke-width="0"/>
<circle cx="460.2" cy="805.5" r="1.75" fill="#000" stroke="none" stroke-width="0"/>
<text x="6.9" y="1026.2" font-size="24" text-anchor="start" fill="#000" font-weight="bold" >E</text>
<rect x="24.8" y="1034.5" width="68.2" height="9.8" fill="#e4e4e4"/>
<line x1="24.8" y1="1046.0" x2="93.0" y2="1046.0" stroke="#000" stroke-width="1.6" />
<text x="58.9" y="1043.0" font-size="7.6" text-anchor="middle" fill="#4a4a4a" font-weight="normal" >bortezomib</text>
<rect x="106.0" y="1034.5" width="58.8" height="9.8" fill="#e4e4e4"/>
<line x1="106.0" y1="1046.0" x2="164.8" y2="1046.0" stroke="#000" stroke-width="1.6" />
<text x="135.4" y="1043.0" font-size="7.6" text-anchor="middle" fill="#4a4a4a" font-weight="normal" >vorinostat</text>
<rect x="171.2" y="1034.5" width="46.3" height="9.8" fill="#e4e4e4"/>
<line x1="171.2" y1="1046.0" x2="217.5" y2="1046.0" stroke="#000" stroke-width="1.6" />
<text x="194.3" y="1043.0" font-size="7.6" text-anchor="middle" fill="#4a4a4a" font-weight="normal" >panobinostat</text>
<text x="40.8" y="1057.2" font-size="7.6" text-anchor="middle" fill="#4a4a4a" font-weight="normal" >mouse 1</text>
<line x1="26.5" y1="1059.6" x2="55.0" y2="1059.6" stroke="#000" stroke-width="1.4" />
<text x="78.0" y="1057.2" font-size="7.6" text-anchor="middle" fill="#4a4a4a" font-weight="normal" >mouse 2</text>
<line x1="63.5" y1="1059.6" x2="92.5" y2="1059.6" stroke="#000" stroke-width="1.4" />
<text x="118.9" y="1057.2" font-size="7.6" text-anchor="middle" fill="#4a4a4a" font-weight="normal" >mouse 3</text>
<line x1="103.8" y1="1059.6" x2="134.0" y2="1059.6" stroke="#000" stroke-width="1.4" />
<text x="160.4" y="1057.2" font-size="7.6" text-anchor="middle" fill="#4a4a4a" font-weight="normal" >mouse 4</text>
<line x1="145.4" y1="1059.6" x2="175.4" y2="1059.6" stroke="#000" stroke-width="1.4" />
<text x="195.8" y="1057.2" font-size="7.6" text-anchor="middle" fill="#4a4a4a" font-weight="normal" >mouse 5</text>
<line x1="181.0" y1="1059.6" x2="210.5" y2="1059.6" stroke="#000" stroke-width="1.4" />
<text x="30.8" y="1068.8" font-size="8" text-anchor="middle" fill="#4a4a4a" font-weight="normal" >d0</text>
<text x="49.7" y="1068.8" font-size="8" text-anchor="middle" fill="#4a4a4a" font-weight="normal" >d21</text>
<text x="68.2" y="1068.8" font-size="8" text-anchor="middle" fill="#4a4a4a" font-weight="normal" >d0</text>
<text x="86.8" y="1068.8" font-size="8" text-anchor="middle" fill="#4a4a4a" font-weight="normal" >d21</text>
<text x="107.5" y="1068.8" font-size="8" text-anchor="middle" fill="#4a4a4a" font-weight="normal" >d0</text>
<text x="132.5" y="1068.8" font-size="8" text-anchor="middle" fill="#4a4a4a" font-weight="normal" >d7</text>
<text x="151.9" y="1068.8" font-size="8" text-anchor="middle" fill="#4a4a4a" font-weight="normal" >d0</text>
<text x="169.4" y="1068.8" font-size="8" text-anchor="middle" fill="#4a4a4a" font-weight="normal" >d7</text>
<text x="188.9" y="1068.8" font-size="8" text-anchor="middle" fill="#4a4a4a" font-weight="normal" >d0</text>
<text x="206.1" y="1068.8" font-size="8" text-anchor="middle" fill="#4a4a4a" font-weight="normal" >d7</text>
<text x="28.5" y="1234.6" font-size="8" text-anchor="middle" fill="#4a4a4a" font-weight="normal" >d0</text>
<text x="47.5" y="1234.6" font-size="8" text-anchor="middle" fill="#4a4a4a" font-weight="normal" >d21</text>
<text x="68.3" y="1234.6" font-size="8" text-anchor="middle" fill="#4a4a4a" font-weight="normal" >d0</text>
<text x="91.2" y="1234.6" font-size="8" text-anchor="middle" fill="#4a4a4a" font-weight="normal" >d21</text>
<text x="112.3" y="1234.6" font-size="8" text-anchor="middle" fill="#4a4a4a" font-weight="normal" >d0</text>
<text x="131.3" y="1234.6" font-size="8" text-anchor="middle" fill="#4a4a4a" font-weight="normal" >d21</text>
<text x="148.7" y="1234.6" font-size="8" text-anchor="middle" fill="#4a4a4a" font-weight="normal" >d0</text>
<text x="168.6" y="1234.6" font-size="8" text-anchor="middle" fill="#4a4a4a" font-weight="normal" >d21</text>
<text x="186.5" y="1234.6" font-size="8" text-anchor="middle" fill="#4a4a4a" font-weight="normal" >d0</text>
<text x="205.1" y="1234.6" font-size="8" text-anchor="middle" fill="#4a4a4a" font-weight="normal" >d21</text>
<defs><filter id="bl" x="-30%" y="-200%" width="160%" height="500%"><feGaussianBlur stdDeviation="0.9 1.0"/></filter><filter id="bl2" x="-30%" y="-10%" width="160%" height="120%"><feGaussianBlur stdDeviation="1.2"/></filter></defs>
<rect x="21.0" y="1070.5" width="195.0" height="77.0" fill="#f9f9f9"/>
<rect x="21.0" y="1149.5" width="195.0" height="77.5" fill="#f9f9f9"/>
<g filter="url(#bl2)">
<rect x="24.0" y="1073.0" width="13.5" height="73.0" fill="#ebebeb"/>
<rect x="43.2" y="1073.0" width="12.9" height="73.0" fill="#ebebeb"/>
<rect x="61.3" y="1073.0" width="14.0" height="73.0" fill="#ebebeb"/>
<rect x="80.5" y="1073.0" width="14.0" height="73.0" fill="#ebebeb"/>
<rect x="99.7" y="1073.0" width="14.2" height="73.0" fill="#ebebeb"/>
<rect x="124.7" y="1073.0" width="14.2" height="73.0" fill="#ebebeb"/>
<rect x="144.9" y="1073.0" width="14.0" height="73.0" fill="#ebebeb"/>
<rect x="163.5" y="1073.0" width="12.8" height="73.0" fill="#ebebeb"/>
<rect x="181.5" y="1073.0" width="13.3" height="73.0" fill="#ebebeb"/>
<rect x="198.8" y="1073.0" width="14.3" height="73.0" fill="#ebebeb"/>
<rect x="23.7" y="1152.0" width="12.4" height="73.5" fill="#ebebeb"/>
<rect x="41.8" y="1152.0" width="13.7" height="73.5" fill="#ebebeb"/>
<rect x="61.3" y="1152.0" width="13.7" height="73.5" fill="#ebebeb"/>
<rect x="85.9" y="1152.0" width="13.6" height="73.5" fill="#ebebeb"/>
<rect x="104.5" y="1152.0" width="12.7" height="73.5" fill="#ebebeb"/>
<rect x="122.7" y="1152.0" width="13.4" height="73.5" fill="#ebebeb"/>
<rect x="141.2" y="1152.0" width="12.9" height="73.5" fill="#ebebeb"/>
<rect x="159.8" y="1152.0" width="13.7" height="73.5" fill="#ebebeb"/>
<rect x="180.0" y="1152.0" width="12.9" height="73.5" fill="#ebebeb"/>
<rect x="199.5" y="1152.0" width="14.2" height="73.5" fill="#ebebeb"/>
</g>
<g filter="url(#bl2)">
<rect x="24.5" y="1077.5" width="12.5" height="13" fill="rgb(210,210,210)"/>
<rect x="43.7" y="1077.5" width="11.9" height="13" fill="rgb(212,212,212)"/>
<rect x="61.8" y="1077.3" width="13.0" height="13" fill="rgb(211,211,211)"/>
<rect x="81.0" y="1077.5" width="13.0" height="13" fill="rgb(212,212,212)"/>
<rect x="100.2" y="1075.8" width="13.2" height="13" fill="rgb(209,209,209)"/>
<rect x="125.2" y="1073.8" width="13.2" height="13" fill="rgb(218,218,218)"/>
<rect x="145.4" y="1073.0" width="13.0" height="13" fill="rgb(210,210,210)"/>
<rect x="164.0" y="1073.8" width="11.8" height="13" fill="rgb(217,217,217)"/>
<rect x="182.0" y="1073.0" width="12.3" height="13" fill="rgb(210,210,210)"/>
<rect x="199.3" y="1074.0" width="13.3" height="13" fill="rgb(214,214,214)"/>
<rect x="24.2" y="1157.6" width="11.4" height="13" fill="rgb(211,211,211)"/>
<rect x="42.3" y="1157.6" width="12.7" height="13" fill="rgb(212,212,212)"/>
<rect x="61.8" y="1157.4" width="12.7" height="13" fill="rgb(211,211,211)"/>
<rect x="86.4" y="1160.0" width="12.6" height="13" fill="rgb(209,209,209)"/>
<rect x="105.0" y="1159.5" width="11.7" height="13" fill="rgb(211,211,211)"/>
<rect x="123.2" y="1159.4" width="12.4" height="13" fill="rgb(211,211,211)"/>
<rect x="141.7" y="1159.4" width="11.9" height="13" fill="rgb(211,211,211)"/>
<rect x="160.3" y="1159.4" width="12.7" height="13" fill="rgb(211,211,211)"/>
<rect x="180.5" y="1157.2" width="11.9" height="13" fill="rgb(209,209,209)"/>
<rect x="200.0" y="1159.6" width="13.2" height="13" fill="rgb(211,211,211)"/>
</g>
<g filter="url(#bl)">
<rect x="23.8" y="1074.5" width="13.9" height="6.0" rx="2" fill="rgb(30,30,30)"/>
<rect x="23.8" y="1092.2" width="13.9" height="3" rx="2" fill="rgb(165,165,165)"/>
<rect x="23.8" y="1099.2" width="13.9" height="2.5" rx="2" fill="rgb(183,183,183)"/>
<rect x="23.8" y="1114.8" width="13.9" height="3.5" rx="2" fill="rgb(165,165,165)"/>
<rect x="23.8" y="1138.2" width="13.9" height="3.5" rx="2" fill="rgb(168,168,168)"/>
<rect x="43.0" y="1074.8" width="13.3" height="5.5" rx="2" fill="rgb(41,41,41)"/>
<rect x="43.0" y="1092.2" width="13.3" height="3" rx="2" fill="rgb(178,178,178)"/>
<rect x="43.0" y="1099.2" width="13.3" height="2.5" rx="2" fill="rgb(196,196,196)"/>
<rect x="43.0" y="1114.5" width="13.3" height="4" rx="2" fill="rgb(59,59,59)"/>
<rect x="43.0" y="1138.0" width="13.3" height="4" rx="2" fill="rgb(84,84,84)"/>
<rect x="61.1" y="1074.3" width="14.4" height="6.0" rx="2" fill="rgb(35,35,35)"/>
<rect x="61.1" y="1092.2" width="14.4" height="3" rx="2" fill="rgb(173,173,173)"/>
<rect x="61.1" y="1099.2" width="14.4" height="2.5" rx="2" fill="rgb(183,183,183)"/>
<rect x="61.1" y="1115.0" width="14.4" height="3" rx="2" fill="rgb(181,181,181)"/>
<rect x="61.1" y="1138.5" width="14.4" height="3" rx="2" fill="rgb(125,125,125)"/>
<rect x="80.3" y="1074.8" width="14.4" height="5.5" rx="2" fill="rgb(41,41,41)"/>
<rect x="80.3" y="1092.2" width="14.4" height="3" rx="2" fill="rgb(181,181,181)"/>
<rect x="80.3" y="1099.2" width="14.4" height="2.5" rx="2" fill="rgb(190,190,190)"/>
<rect x="80.3" y="1115.0" width="14.4" height="3" rx="2" fill="rgb(181,181,181)"/>
<rect x="80.3" y="1138.2" width="14.4" height="3.5" rx="2" fill="rgb(67,67,67)"/>
<rect x="99.5" y="1072.5" width="14.6" height="6.5" rx="2" fill="rgb(24,24,24)"/>
<rect x="99.5" y="1090.8" width="14.6" height="2.5" rx="2" fill="rgb(187,187,187)"/>
<rect x="99.5" y="1097.8" width="14.6" height="2.5" rx="2" fill="rgb(201,201,201)"/>
<rect x="99.5" y="1114.5" width="14.6" height="3" rx="2" fill="rgb(181,181,181)"/>
<rect x="99.5" y="1138.5" width="14.6" height="3" rx="2" fill="rgb(199,199,199)"/>
<rect x="124.5" y="1071.3" width="14.6" height="5.0" rx="2" fill="rgb(81,81,81)"/>
<rect x="124.5" y="1089.8" width="14.6" height="2.5" rx="2" fill="rgb(187,187,187)"/>
<rect x="124.5" y="1097.8" width="14.6" height="2.5" rx="2" fill="rgb(192,192,192)"/>
<rect x="124.5" y="1114.5" width="14.6" height="3" rx="2" fill="rgb(173,173,173)"/>
<rect x="124.5" y="1138.0" width="14.6" height="4.5" rx="2" fill="rgb(36,36,36)"/>
<rect x="144.7" y="1070.0" width="14.4" height="6.0" rx="2" fill="rgb(26,26,26)"/>
<rect x="144.7" y="1089.8" width="14.4" height="2.5" rx="2" fill="rgb(173,173,173)"/>
<rect x="144.7" y="1097.8" width="14.4" height="2.5" rx="2" fill="rgb(183,183,183)"/>
<rect x="144.7" y="1114.5" width="14.4" height="3" rx="2" fill="rgb(169,169,169)"/>
<rect x="144.7" y="1138.8" width="14.4" height="3" rx="2" fill="rgb(149,149,149)"/>
<rect x="163.3" y="1071.3" width="13.2" height="5.0" rx="2" fill="rgb(77,77,77)"/>
<rect x="163.3" y="1089.8" width="13.2" height="2.5" rx="2" fill="rgb(192,192,192)"/>
<rect x="163.3" y="1097.8" width="13.2" height="2.5" rx="2" fill="rgb(201,201,201)"/>
<rect x="163.3" y="1114.5" width="13.2" height="3" rx="2" fill="rgb(181,181,181)"/>
<rect x="163.3" y="1138.0" width="13.2" height="4.5" rx="2" fill="rgb(29,29,29)"/>
<rect x="181.3" y="1070.0" width="13.7" height="6.0" rx="2" fill="rgb(26,26,26)"/>
<rect x="181.3" y="1089.8" width="13.7" height="2.5" rx="2" fill="rgb(173,173,173)"/>
<rect x="181.3" y="1097.8" width="13.7" height="2.5" rx="2" fill="rgb(183,183,183)"/>
<rect x="181.3" y="1114.5" width="13.7" height="3" rx="2" fill="rgb(173,173,173)"/>
<rect x="181.3" y="1138.5" width="13.7" height="3.5" rx="2" fill="rgb(120,120,120)"/>
<rect x="198.6" y="1071.2" width="14.7" height="5.5" rx="2" fill="rgb(59,59,59)"/>
<rect x="198.6" y="1089.8" width="14.7" height="2.5" rx="2" fill="rgb(183,183,183)"/>
<rect x="198.6" y="1097.8" width="14.7" height="2.5" rx="2" fill="rgb(192,192,192)"/>
<rect x="198.6" y="1114.5" width="14.7" height="3" rx="2" fill="rgb(181,181,181)"/>
<rect x="198.6" y="1137.8" width="14.7" height="5" rx="2" fill="rgb(10,10,10)"/>
<rect x="23.5" y="1154.8" width="12.8" height="5.5" rx="2" fill="rgb(37,37,37)"/>
<rect x="23.5" y="1173.5" width="12.8" height="2.5" rx="2" fill="rgb(173,173,173)"/>
<rect x="23.5" y="1180.8" width="12.8" height="2.5" rx="2" fill="rgb(183,183,183)"/>
<rect x="23.5" y="1194.8" width="12.8" height="3" rx="2" fill="rgb(169,169,169)"/>
<rect x="23.5" y="1219.2" width="12.8" height="3.5" rx="2" fill="rgb(108,108,108)"/>
<rect x="41.6" y="1154.8" width="14.1" height="5.5" rx="2" fill="rgb(41,41,41)"/>
<rect x="41.6" y="1173.5" width="14.1" height="2.5" rx="2" fill="rgb(181,181,181)"/>
<rect x="41.6" y="1180.8" width="14.1" height="2.5" rx="2" fill="rgb(192,192,192)"/>
<rect x="41.6" y="1194.8" width="14.1" height="3" rx="2" fill="rgb(181,181,181)"/>
<rect x="41.6" y="1219.5" width="14.1" height="3" rx="2" fill="rgb(226,226,226)"/>
<rect x="61.1" y="1154.4" width="14.1" height="6.0" rx="2" fill="rgb(37,37,37)"/>
<rect x="61.1" y="1173.5" width="14.1" height="2.5" rx="2" fill="rgb(173,173,173)"/>
<rect x="61.1" y="1180.8" width="14.1" height="2.5" rx="2" fill="rgb(183,183,183)"/>
<rect x="61.1" y="1194.8" width="14.1" height="3" rx="2" fill="rgb(173,173,173)"/>
<rect x="61.1" y="1218.8" width="14.1" height="4.5" rx="2" fill="rgb(67,67,67)"/>
<rect x="85.7" y="1157.0" width="14.0" height="6.0" rx="2" fill="rgb(21,21,21)"/>
<rect x="85.7" y="1173.5" width="14.0" height="2.5" rx="2" fill="rgb(173,173,173)"/>
<rect x="85.7" y="1180.8" width="14.0" height="2.5" rx="2" fill="rgb(183,183,183)"/>
<rect x="85.7" y="1194.8" width="14.0" height="3" rx="2" fill="rgb(173,173,173)"/>
<rect x="104.3" y="1156.8" width="13.1" height="5.5" rx="2" fill="rgb(35,35,35)"/>
<rect x="104.3" y="1173.5" width="13.1" height="2.5" rx="2" fill="rgb(173,173,173)"/>
<rect x="104.3" y="1180.8" width="13.1" height="2.5" rx="2" fill="rgb(183,183,183)"/>
<rect x="104.3" y="1194.0" width="13.1" height="3" rx="2" fill="rgb(169,169,169)"/>
<rect x="104.3" y="1218.8" width="13.1" height="3.5" rx="2" fill="rgb(120,120,120)"/>
<rect x="122.5" y="1156.7" width="13.8" height="5.5" rx="2" fill="rgb(35,35,35)"/>
<rect x="122.5" y="1173.5" width="13.8" height="2.5" rx="2" fill="rgb(181,181,181)"/>
<rect x="122.5" y="1180.3" width="13.8" height="2.5" rx="2" fill="rgb(192,192,192)"/>
<rect x="122.5" y="1194.0" width="13.8" height="3" rx="2" fill="rgb(181,181,181)"/>
<rect x="141.0" y="1156.7" width="13.3" height="5.5" rx="2" fill="rgb(35,35,35)"/>
<rect x="141.0" y="1173.5" width="13.3" height="2.5" rx="2" fill="rgb(173,173,173)"/>
<rect x="141.0" y="1180.3" width="13.3" height="2.5" rx="2" fill="rgb(183,183,183)"/>
<rect x="141.0" y="1193.8" width="13.3" height="3.5" rx="2" fill="rgb(160,160,160)"/>
<rect x="141.0" y="1218.5" width="13.3" height="4" rx="2" fill="rgb(91,91,91)"/>
<rect x="159.6" y="1156.7" width="14.1" height="5.5" rx="2" fill="rgb(35,35,35)"/>
<rect x="159.6" y="1173.5" width="14.1" height="2.5" rx="2" fill="rgb(181,181,181)"/>
<rect x="159.6" y="1180.3" width="14.1" height="2.5" rx="2" fill="rgb(192,192,192)"/>
<rect x="159.6" y="1194.0" width="14.1" height="3" rx="2" fill="rgb(181,181,181)"/>
<rect x="179.8" y="1153.7" width="13.3" height="7.0" rx="2" fill="rgb(24,24,24)"/>
<rect x="179.8" y="1173.5" width="13.3" height="2.5" rx="2" fill="rgb(173,173,173)"/>
<rect x="179.8" y="1180.3" width="13.3" height="2.5" rx="2" fill="rgb(183,183,183)"/>
<rect x="179.8" y="1194.0" width="13.3" height="3" rx="2" fill="rgb(173,173,173)"/>
<rect x="179.8" y="1219.0" width="13.3" height="3" rx="2" fill="rgb(149,149,149)"/>
<rect x="199.3" y="1156.8" width="14.6" height="5.5" rx="2" fill="rgb(35,35,35)"/>
<rect x="199.3" y="1172.5" width="14.6" height="2.5" rx="2" fill="rgb(181,181,181)"/>
<rect x="199.3" y="1180.8" width="14.6" height="2.5" rx="2" fill="rgb(192,192,192)"/>
<rect x="199.3" y="1195.3" width="14.6" height="3" rx="2" fill="rgb(181,181,181)"/>
</g>
<polygon points="216.4,1140.1 226.2,1134.6999999999998 226.2,1145.5" fill="#000"/>
<line x1="225.0" y1="1140.1" x2="241.0" y2="1140.1" stroke="#000" stroke-width="1.8" />
<polygon points="216.4,1222.3 226.2,1216.8999999999999 226.2,1227.7" fill="#000"/>
<line x1="225.0" y1="1222.3" x2="241.0" y2="1222.3" stroke="#000" stroke-width="1.8" />
<line x1="26.4" y1="1237.6" x2="54.6" y2="1237.6" stroke="#000" stroke-width="1.4" />
<text x="40.5" y="1245.8" font-size="7.6" text-anchor="middle" fill="#4a4a4a" font-weight="normal" >mouse 6</text>
<line x1="64.9" y1="1237.6" x2="94.4" y2="1237.6" stroke="#000" stroke-width="1.4" />
<text x="79.7" y="1245.8" font-size="7.6" text-anchor="middle" fill="#4a4a4a" font-weight="normal" >mouse 7</text>
<line x1="108.5" y1="1237.6" x2="136.7" y2="1237.6" stroke="#000" stroke-width="1.4" />
<text x="122.6" y="1245.8" font-size="7.6" text-anchor="middle" fill="#4a4a4a" font-weight="normal" >mouse 8</text>
<line x1="145.6" y1="1237.6" x2="173.7" y2="1237.6" stroke="#000" stroke-width="1.4" />
<text x="159.6" y="1245.8" font-size="7.6" text-anchor="middle" fill="#4a4a4a" font-weight="normal" >mouse 9</text>
<line x1="182.7" y1="1237.6" x2="211.6" y2="1237.6" stroke="#000" stroke-width="1.4" />
<text x="197.1" y="1245.8" font-size="7.6" text-anchor="middle" fill="#4a4a4a" font-weight="normal" >mouse 10</text>
<line x1="22.9" y1="1249.0" x2="137.4" y2="1249.0" stroke="#000" stroke-width="1.5" />
<rect x="22.9" y="1250.2" width="114.5" height="11.6" fill="#e6e6e6"/>
<text x="80.2" y="1258.4" font-size="7.6" text-anchor="middle" fill="#4a4a4a" font-weight="normal" >panobinostat</text>
<line x1="145.0" y1="1249.0" x2="214.2" y2="1249.0" stroke="#000" stroke-width="1.5" />
<rect x="145.0" y="1250.2" width="69.2" height="11.6" fill="#e6e6e6"/>
<text x="179.6" y="1258.4" font-size="7.6" text-anchor="middle" fill="#4a4a4a" font-weight="normal" >vorinostat</text>
<line x1="21.1" y1="1264.5" x2="214.2" y2="1264.5" stroke="#000" stroke-width="2" />
<rect x="21.1" y="1265.5" width="193.1" height="14.5" fill="#a5a7a9"/>
<text x="118.0" y="1276.2" font-size="8.8" text-anchor="middle" fill="#1a1a1a" font-weight="normal" >+ bortezomib</text>
</svg></body></html>
